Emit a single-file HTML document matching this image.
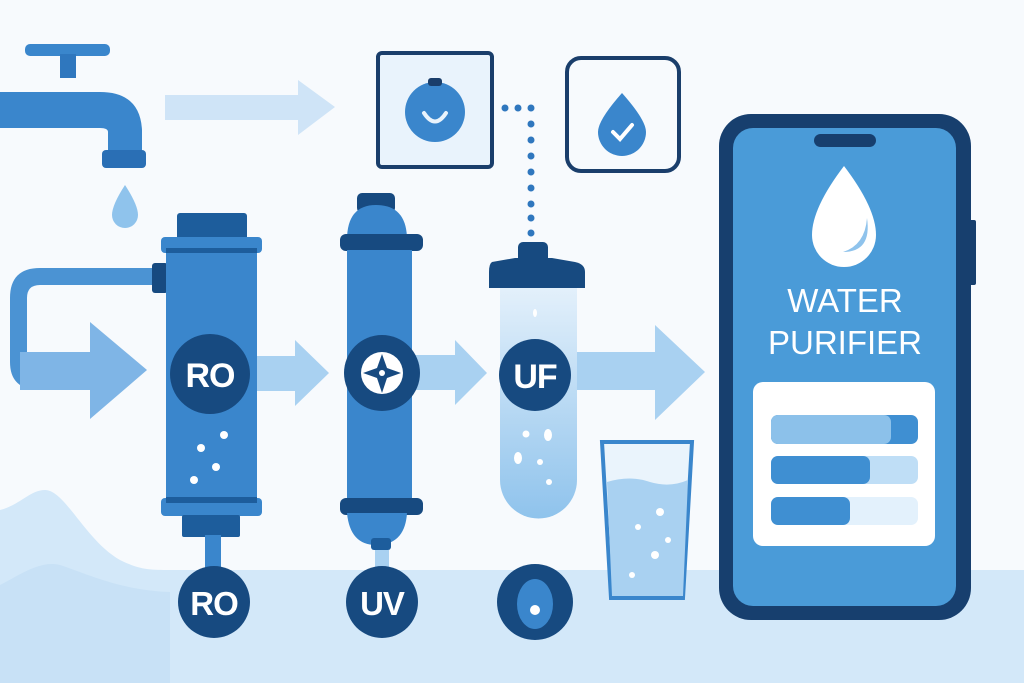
<!DOCTYPE html>
<html><head><style>html,body{margin:0;padding:0;background:#f7fafd}svg{display:block}</style></head>
<body>
<svg width="1024" height="683" viewBox="0 0 1024 683" xmlns="http://www.w3.org/2000/svg" font-family="Liberation Sans, sans-serif">
<rect width="1024" height="683" fill="#f7fafd"/>
<!-- bottom water -->
<path d="M0 510 C20 505 30 490 45 490 C65 490 85 540 120 560 C140 570 150 570 170 570 L1024 570 L1024 683 L0 683Z" fill="#d3e8f9"/>
<path d="M0 585 C20 575 40 560 60 565 C90 575 120 590 170 592 L170 683 L0 683Z" fill="#c3def5" opacity=".7"/>
<!-- tap -->
<rect x="25" y="44" width="85" height="12" rx="5" fill="#3a86cc"/>
<rect x="60" y="54" width="16" height="24" fill="#2f77be"/>
<path d="M0 92 H100 Q140 92 142 130 V160 H108 V132 Q108 128 100 128 H0Z" fill="#3a86cc"/>
<rect x="102" y="150" width="44" height="18" rx="4" fill="#2a6fb5"/>
<path d="M125 185 Q112 205 112 215 A13 13 0 0 0 138 215 Q138 205 125 185Z" fill="#8fc3ec"/>
<!-- top arrow -->
<path d="M165 95 H298 V80 L335 107 L298 135 V120 H165Z" fill="#cfe4f7"/>
<!-- box1 -->
<rect x="378" y="53" width="114" height="114" rx="4" fill="#e9f3fc" stroke="#1a3e6b" stroke-width="4"/>
<circle cx="435" cy="112" r="30" fill="#3a86cc"/>
<rect x="428" y="78" width="14" height="8" rx="3" fill="#1a3e6b"/>
<path d="M424 113 Q435 130 446 113" fill="none" stroke="#e9f3fc" stroke-width="4" stroke-linecap="round"/>
<!-- dotted -->
<g fill="#2f77be"><circle cx="505" cy="108" r="3.5"/><circle cx="518" cy="108" r="3.5"/><circle cx="531" cy="108" r="3.5"/>
<circle cx="531" cy="124" r="3.5"/><circle cx="531" cy="140" r="3.5"/><circle cx="531" cy="156" r="3.5"/><circle cx="531" cy="172" r="3.5"/><circle cx="531" cy="188" r="3.5"/><circle cx="531" cy="204" r="3.5"/><circle cx="531" cy="218" r="3.5"/><circle cx="531" cy="233" r="3.5"/></g>
<!-- box2 -->
<rect x="567" y="58" width="112" height="113" rx="14" fill="#f7fafd" stroke="#1a3e6b" stroke-width="4"/>
<path d="M622 93 Q598 120 598 132 A24 24 0 0 0 646 132 Q646 120 622 93Z" fill="#3a86cc"/>
<path d="M613 132 L620 139 L632 125" fill="none" stroke="#fff" stroke-width="4" stroke-linecap="round"/>
<!-- left pipe + arrow -->
<path d="M155 268 H40 Q10 268 10 298 V362 Q10 390 40 390 H60 V372 H40 Q27 372 27 360 V298 Q27 285 40 285 H155Z" fill="#4b93d3"/>
<rect x="152" y="263" width="16" height="30" rx="3" fill="#174a80"/>
<path d="M20 352 H90 V322 L147 370 L90 419 V390 H20Z" fill="#7fb5e6"/>
<!-- arrows -->
<path d="M256 356 H295 V340 L329 373 L295 406 V391 H256Z" fill="#a9d1f1"/>
<path d="M415 355 H455 V340 L487 373 L455 405 V390 H415Z" fill="#a9d1f1"/>
<path d="M575 352 H655 V325 L705 372 L655 420 V390 H575Z" fill="#a9d1f1"/>
<!-- RO filter -->
<rect x="177" y="213" width="70" height="30" rx="3" fill="#1d5d9c"/>
<rect x="161" y="237" width="101" height="16" rx="4" fill="#3a86cc"/>
<rect x="166" y="248" width="91" height="8" fill="#1d5d9c"/>
<rect x="166" y="253" width="91" height="250" fill="#3a86cc"/>
<rect x="161" y="498" width="101" height="18" rx="4" fill="#3a86cc"/>
<rect x="166" y="497" width="91" height="6" fill="#1d5d9c"/>
<rect x="182" y="515" width="58" height="22" rx="2" fill="#1d5d9c"/>
<rect x="205" y="535" width="16" height="35" fill="#3a86cc"/>
<circle cx="210" cy="374" r="40" fill="#174a80"/>
<text x="210" y="387" text-anchor="middle" font-size="34" fill="#fff" font-weight="bold" letter-spacing="-1">RO</text>
<g fill="#fff"><circle cx="224" cy="435" r="4"/><circle cx="201" cy="448" r="4"/><circle cx="216" cy="467" r="4"/><circle cx="194" cy="480" r="4"/></g>
<circle cx="214" cy="602" r="36" fill="#174a80"/>
<text x="214" y="615" text-anchor="middle" font-size="33" fill="#fff" font-weight="bold" letter-spacing="-1">RO</text>
<!-- UV filter -->
<rect x="357" y="193" width="38" height="20" rx="5" fill="#174a80"/>
<path d="M347 240 Q347 205 376 205 Q407 205 407 240Z" fill="#3a86cc"/>
<rect x="340" y="234" width="83" height="17" rx="6" fill="#174a80"/>
<rect x="347" y="250" width="65" height="250" fill="#3a86cc"/>
<rect x="340" y="498" width="83" height="17" rx="6" fill="#174a80"/>
<path d="M347 513 H407 Q405 545 376 545 Q350 545 347 513Z" fill="#3a86cc"/>
<rect x="371" y="538" width="20" height="12" rx="3" fill="#1d5d9c"/>
<rect x="375" y="550" width="14" height="20" fill="#a9d1f1"/>
<circle cx="382" cy="373" r="38" fill="#174a80"/>
<circle cx="382" cy="373" r="21" fill="#fff"/>
<path d="M382 354 L387 368 L401 373 L387 378 L382 393 L377 378 L363 373 L377 368Z" fill="#174a80"/>
<circle cx="382" cy="373" r="3" fill="#fff"/>
<circle cx="382" cy="602" r="36" fill="#174a80"/>
<text x="382" y="615" text-anchor="middle" font-size="33" fill="#fff" font-weight="bold" letter-spacing="-1">UV</text>
<!-- UF tube -->
<defs><linearGradient id="tg" x1="0" y1="0" x2="0" y2="1"><stop offset="0" stop-color="#e3f0fb"/><stop offset="1" stop-color="#8fc3ec"/></linearGradient></defs>
<path d="M500 288 H577 V480 A38 38 0 0 1 500 480Z" fill="url(#tg)"/>
<rect x="518" y="242" width="30" height="22" rx="5" fill="#174a80"/>
<path d="M492 262 L515 258 H552 L575 262 Q585 264 585 272 V288 H489 V272 Q489 264 492 262Z" fill="#174a80"/>
<circle cx="535" cy="375" r="36" fill="#174a80"/>
<text x="535" y="388" text-anchor="middle" font-size="34" fill="#fff" font-weight="bold" letter-spacing="-1">UF</text>
<g fill="#fff"><ellipse cx="535" cy="313" rx="2" ry="4"/><circle cx="526" cy="434" r="3.5"/><ellipse cx="548" cy="435" rx="4" ry="6"/><ellipse cx="518" cy="458" rx="4" ry="6"/><circle cx="540" cy="462" r="3"/><circle cx="549" cy="482" r="3"/></g>
<circle cx="535" cy="602" r="38" fill="#174a80"/>
<ellipse cx="535" cy="604" rx="18" ry="25" fill="#3a86cc"/>
<circle cx="535" cy="610" r="5" fill="#fff"/>
<!-- glass -->
<path d="M602 442 H692 L683 598 H611Z" fill="#eaf4fc" stroke="#3a86cc" stroke-width="4"/>
<path d="M607 482 Q630 475 650 482 Q670 488 688 480 L683 596 H612Z" fill="#a9d1f1"/>
<g fill="#fff"><circle cx="660" cy="512" r="4"/><circle cx="638" cy="527" r="3"/><circle cx="668" cy="540" r="3"/><circle cx="655" cy="555" r="4"/><circle cx="632" cy="575" r="3"/></g>
<!-- phone -->
<rect x="968" y="220" width="8" height="65" rx="2" fill="#173f6e"/>
<rect x="719" y="114" width="252" height="506" rx="32" fill="#173f6e"/>
<rect x="733" y="128" width="223" height="478" rx="20" fill="#4a9bd8"/>
<rect x="814" y="134" width="62" height="13" rx="6.5" fill="#173f6e"/>
<path d="M844 166 Q812 208 812 235 A32 32 0 0 0 876 235 Q876 208 844 166Z" fill="#fff"/>
<path d="M867 218 Q872 252 843 252 Q865 245 867 218Z" fill="#8fc3ec"/>
<text x="845" y="312" text-anchor="middle" font-size="33" fill="#fff">WATER</text>
<text x="845" y="354" text-anchor="middle" font-size="33" fill="#fff">PURIFIER</text>
<rect x="753" y="382" width="182" height="164" rx="10" fill="#fff"/>
<rect x="771" y="415" width="147" height="29" rx="7" fill="#3f8fd2"/>
<rect x="771" y="415" width="120" height="29" rx="7" fill="#8cc1ea"/>
<rect x="771" y="456" width="147" height="28" rx="7" fill="#bfdef6"/>
<rect x="771" y="456" width="99" height="28" rx="7" fill="#3f8fd2"/>
<rect x="771" y="497" width="147" height="28" rx="7" fill="#e3f1fc"/>
<rect x="771" y="497" width="79" height="28" rx="7" fill="#3f8fd2"/>
</svg>
</body></html>
